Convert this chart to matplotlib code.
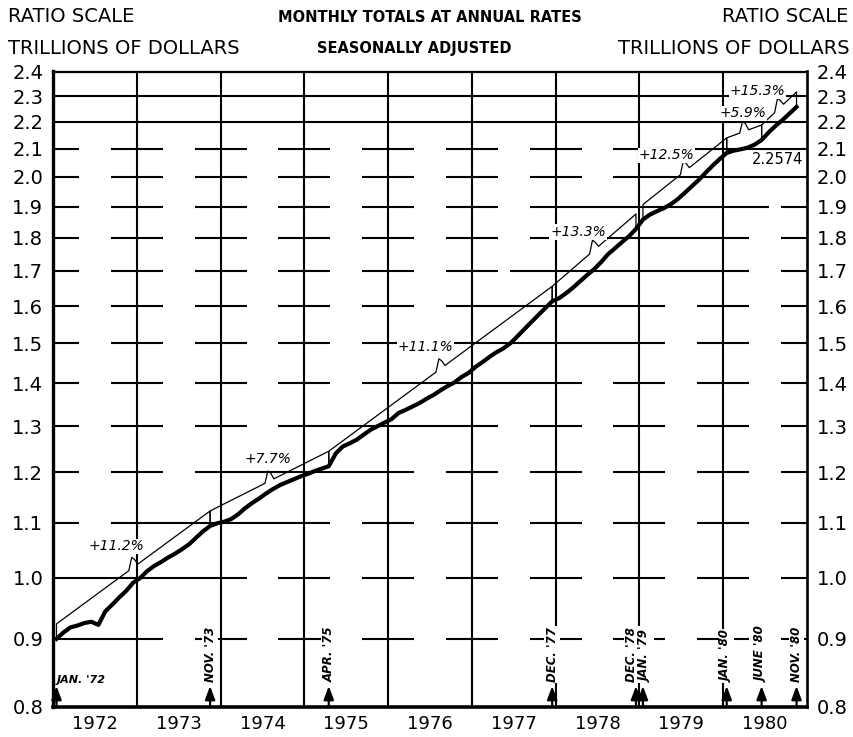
import numpy as np
import matplotlib
matplotlib.use("Agg")
import matplotlib.pyplot as plt
from matplotlib.ticker import NullLocator

# ---------------- data (trillions of dollars, monthly, Jan 1972 .. Nov 1980) -------------
start_year = 1972
values = [
    0.900, 0.910, 0.918, 0.921, 0.925, 0.927, 0.922, 0.944, 0.955, 0.967, 0.978, 0.992,   # 1972
    1.000, 1.012, 1.021, 1.028, 1.036, 1.043, 1.051, 1.060, 1.072, 1.084, 1.094, 1.099,   # 1973
    1.102, 1.107, 1.116, 1.128, 1.138, 1.147, 1.157, 1.166, 1.174, 1.180, 1.186, 1.192,   # 1974
    1.197, 1.203, 1.208, 1.213, 1.240, 1.255, 1.262, 1.270, 1.281, 1.292, 1.300, 1.308,   # 1975
    1.316, 1.330, 1.337, 1.345, 1.353, 1.363, 1.372, 1.383, 1.393, 1.402, 1.415, 1.425,   # 1976
    1.440, 1.452, 1.465, 1.477, 1.487, 1.500, 1.518, 1.537, 1.556, 1.575, 1.594, 1.613,   # 1977
    1.622, 1.636, 1.652, 1.670, 1.688, 1.705, 1.726, 1.750, 1.768, 1.787, 1.805, 1.828,   # 1978
    1.858, 1.874, 1.885, 1.895, 1.908, 1.925, 1.946, 1.968, 1.990, 2.015, 2.040, 2.063,   # 1979
    2.085, 2.093, 2.098, 2.104, 2.115, 2.132, 2.160, 2.185, 2.207, 2.232, 2.2574,         # 1980
]
final_label = "2.2574"

period_start = [0, 22, 39, 71, 84, 96, 101]
period_end = [22, 39, 71, 83, 96, 101, 106]
period_rates = [11.2, 7.7, 11.1, 13.3, 12.5, 5.9, 15.3]

marker_idx = [0, 22, 39, 71, 83, 84, 96, 101, 106]
marker_labels = ["JAN. '72", "NOV. '73", "APR. '75", "DEC. '77", "DEC. '78",
                 "JAN. '79", "JAN. '80", "JUNE '80", "NOV. '80"]

year_labels = ["1972", "1973", "1974", "1975", "1976", "1977", "1978", "1979", "1980"]
ytick_vals = [0.8, 0.9, 1.0, 1.1, 1.2, 1.3, 1.4, 1.5, 1.6, 1.7, 1.8, 1.9, 2.0, 2.1, 2.2, 2.3, 2.4]
ytick_labels = ["0.8", "0.9", "1.0", "1.1", "1.2", "1.3", "1.4", "1.5", "1.6", "1.7",
                "1.8", "1.9", "2.0", "2.1", "2.2", "2.3", "2.4"]

# ---------------- layout ----------------
W, H = 854, 737
L, R, T, B = 53, 807, 71.5, 707
fig = plt.figure(figsize=(W / 100, H / 100), dpi=100)
ax = fig.add_axes([L / W, 1 - B / H, (R - L) / W, (B - T) / H])

vals = np.array(values)
t = start_year + (np.arange(len(vals)) + 0.5) / 12.0
x0, x1 = start_year, start_year + len(year_labels)
ymin, ymax = ytick_vals[0], ytick_vals[-1]

ax.set_xlim(x0, x1)
ax.set_yscale("log")
ax.set_ylim(ymin, ymax)

KY = (B - T) / np.log(ymax / ymin)      # pixels per ln unit
KX = (R - L) / (x1 - x0)                # pixels per year


def up(v, px):
    return v * np.exp(px / KY)


# ---------------- grid ----------------
years = np.arange(x0, x1 + 1)
for yb in years[1:-1]:
    ax.plot([yb, yb], [ymin, ymax], color="black", lw=1.5, zorder=1, solid_capstyle="butt")

half = 0.31
for v in ytick_vals[1:-1]:
    if v >= 2.2:
        segs = [(x0, x1)]
    else:
        tc = t[np.argmin(np.abs(vals - v))]
        segs = [(max(x0, tc - 1.0), min(x1, tc + 1.25))]
        for yb in years:
            segs.append((max(x0, yb - half), min(x1, yb + half)))
    segs.sort()
    merged = []
    for a, b in segs:
        if merged and a <= merged[-1][1]:
            merged[-1] = (merged[-1][0], max(merged[-1][1], b))
        else:
            merged.append((a, b))
    for a, b in merged:
        ax.plot([a, b], [v, v], color="black", lw=1.5, zorder=1, solid_capstyle="butt")

# ---------------- data line ----------------
ax.plot(t, vals, color="black", lw=3.0, zorder=4, solid_joinstyle="round")

# ---------------- growth brackets ----------------
off = 15
w = 4.5 / KX
label_offsets = [(-17, 21), (-1, 22), (-15, 22), (-16, 18), (-18, 16), (-1, 18), (-22, 17)]
for s, e, r, (dx, dy) in zip(period_start, period_end, period_rates, label_offsets):
    ts, te = t[s], t[e]
    ys, ye = up(vals[s], off), up(vals[e], off)

    def line(tt):
        return np.exp(np.log(ys) + (np.log(ye) - np.log(ys)) * (tt - ts) / (te - ts))

    tm = 0.5 * (ts + te)
    xs = [ts, ts, tm - w, tm - 0.35 * w, tm + 0.25 * w, tm + w, te, te]
    yy = [vals[s], ys, line(tm - w), up(line(tm), 10), up(line(tm), 8), line(tm + w), ye, vals[e]]
    ax.plot(xs, yy, color="black", lw=0.9, zorder=3)
    ax.annotate(f"+{r}%", xy=(tm, line(tm)), xytext=(dx, dy), textcoords="offset pixels",
                ha="center", va="center", fontsize=10, style="italic", zorder=6,
                bbox=dict(boxstyle="square,pad=0.05", fc="white", ec="none"))

ax.annotate(final_label, xy=(t[-1], vals[-1]), xytext=(7, -53), textcoords="offset pixels",
            ha="right", va="center", fontsize=10.5, zorder=6,
            bbox=dict(boxstyle="square,pad=0.05", fc="white", ec="none"))

# ---------------- date markers ----------------
tip = up(ymin, 21)
lab_y = up(ymin, 25)
lab_dx = [0, 0, 0, 0, -4, 3, 0, 0, 0]
for k, (i, lab) in enumerate(zip(marker_idx, marker_labels)):
    ax.annotate("", xy=(t[i], tip), xytext=(t[i], ymin),
                arrowprops=dict(arrowstyle="-|>,head_length=0.8,head_width=0.3",
                                color="black", lw=1.6, shrinkA=0, shrinkB=0),
                annotation_clip=False, zorder=5)
    if k == 0:
        ax.text(t[i], up(ymin, 22), lab, ha="left", va="bottom", fontsize=8,
                weight="bold", style="italic", zorder=6)
    else:
        ax.text(t[i] + lab_dx[k] / KX, lab_y, lab, rotation=90, ha="center", va="bottom",
                fontsize=8.5, weight="bold", style="italic", zorder=6,
                bbox=dict(boxstyle="square,pad=0.1", fc="white", ec="none"))

# ---------------- axes / ticks ----------------
ax.set_xticks(np.arange(x0, x1) + 0.5)
ax.set_xticklabels(year_labels)
ax.yaxis.set_minor_locator(NullLocator())
ax.xaxis.set_minor_locator(NullLocator())
ax.set_yticks(ytick_vals)
ax.set_yticklabels(ytick_labels)
ax.tick_params(axis="x", length=0, labelsize=13, pad=6)
ax.tick_params(axis="y", length=0, labelsize=14, pad=7, left=True, right=True,
               labelleft=True, labelright=True)

for side, lw in (("left", 2.4), ("bottom", 2.6), ("right", 1.9), ("top", 1.6)):
    ax.spines[side].set_linewidth(lw)
    ax.spines[side].set_color("black")
    ax.spines[side].set_zorder(7)

# ---------------- header text ----------------
def ftxt(x, y, s, **kw):
    fig.text(x / W, 1 - y / H, s, va="center", **kw)

ftxt(8, 17, "RATIO SCALE", ha="left", fontsize=14)
ftxt(848, 17, "RATIO SCALE", ha="right", fontsize=14)
ftxt(430, 17, "MONTHLY TOTALS AT ANNUAL RATES", ha="center", fontsize=10.5, weight="bold")
ftxt(8, 49, "TRILLIONS OF DOLLARS", ha="left", fontsize=14)
ftxt(850, 49, "TRILLIONS OF DOLLARS", ha="right", fontsize=14)
ftxt(414, 49, "SEASONALLY ADJUSTED", ha="center", fontsize=10.5, weight="bold")

fig.savefig("out.png", dpi=100, facecolor="white")
